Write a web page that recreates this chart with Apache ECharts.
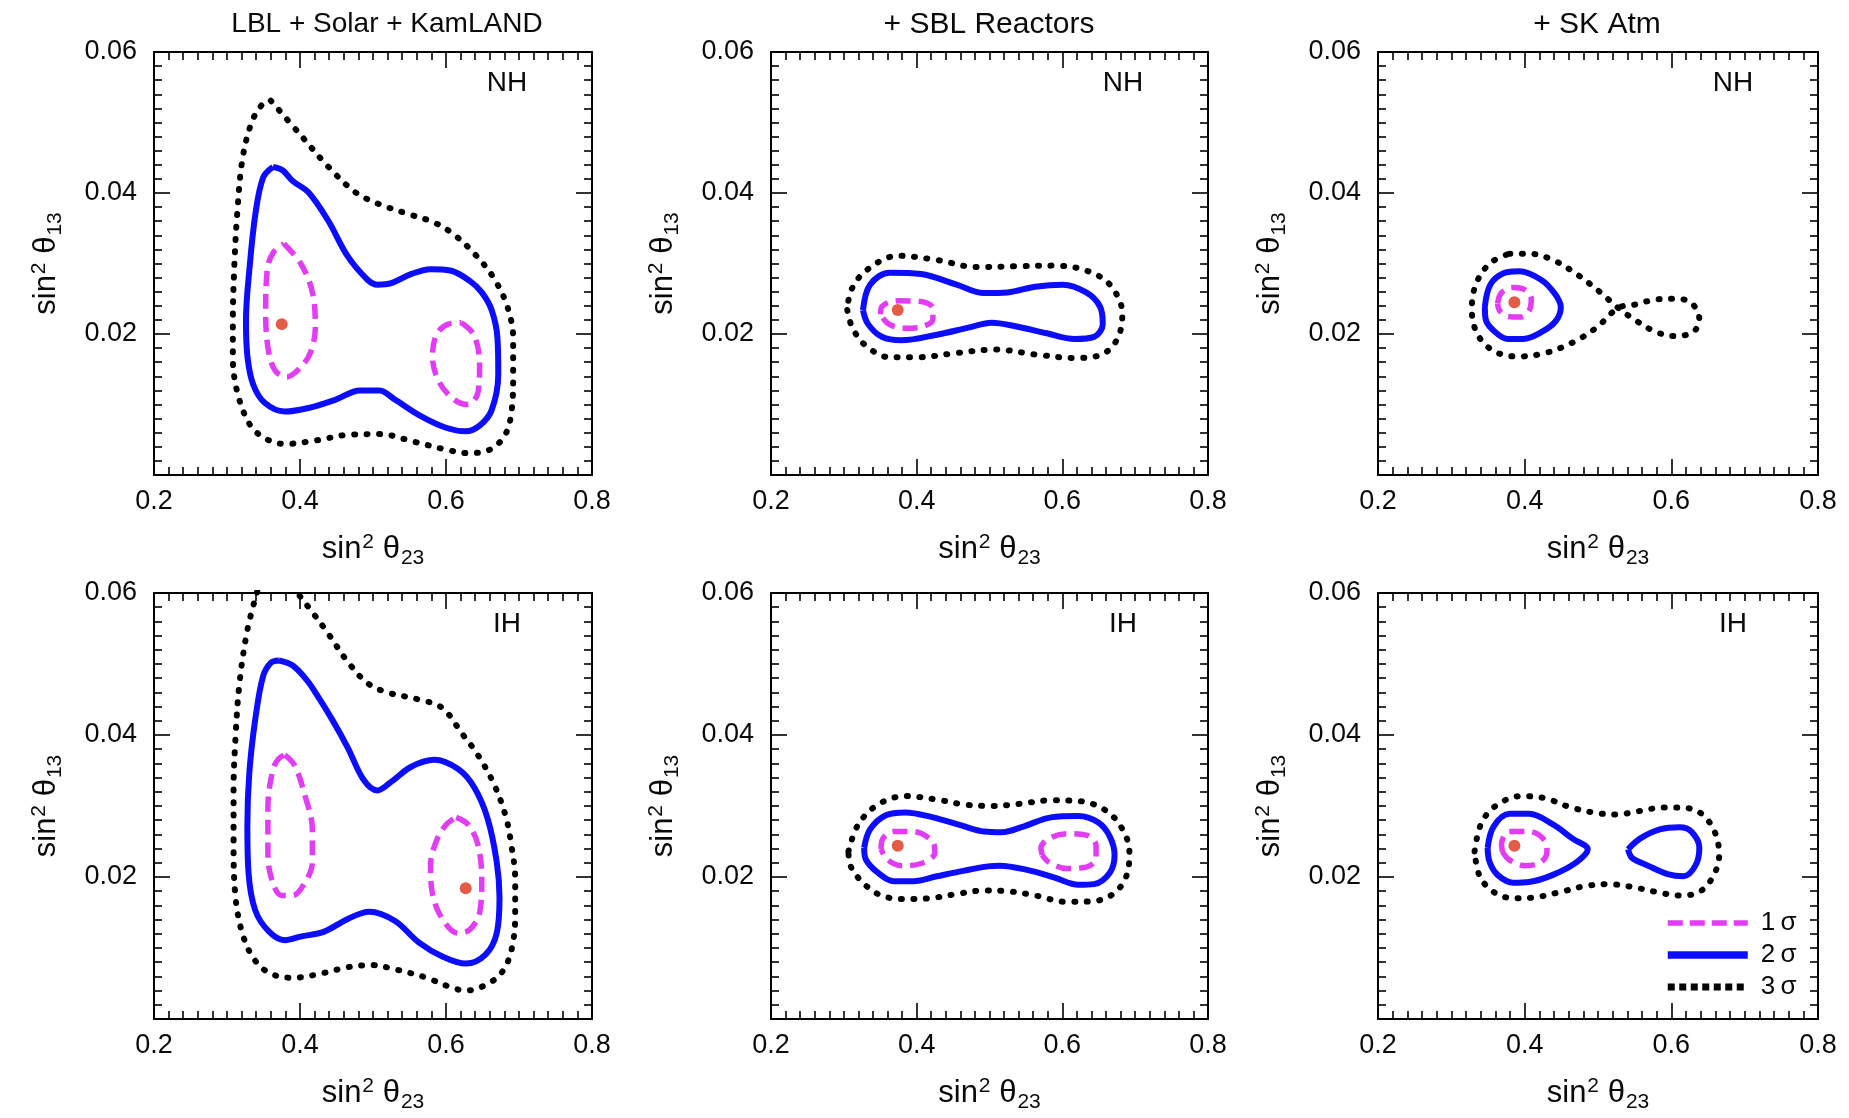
<!DOCTYPE html>
<html>
<head>
<meta charset="utf-8">
<title>sin²θ23 – sin²θ13 allowed regions</title>
<script src="https://cdn.jsdelivr.net/npm/echarts@6/dist/echarts.min.js"></script>
<style>
  html, body { margin: 0; padding: 0; background: #ffffff; }
  #chart { width: 1849px; height: 1118px; }
</style>
</head>
<body>
<div id="chart"></div>
<script>
// ---------------------------------------------------------------
// Axis ticks and texts
// ---------------------------------------------------------------
const xTicks = [0.2, 0.4, 0.6, 0.8];
const xTickLabels = ['0.2', '0.4', '0.6', '0.8'];
const yTicks = [0, 0.02, 0.04, 0.06];
const yTickLabels = ['', '0.02', '0.04', '0.06'];
const columnTitles = ['LBL + Solar + KamLAND', '+ SBL Reactors', '+ SK Atm'];
const rowLabels = ['NH', 'IH'];
const levelNames = ['1σ', '2σ', '3σ'];

// ---------------------------------------------------------------
// Contours: [sin²θ23, sin²θ13]
// ---------------------------------------------------------------
// NH, LBL + Solar + KamLAND
const nhLblSigma3 = [[0.360,0.0531],[0.401,0.0482],[0.439,0.0437],[0.476,0.0401],[0.509,0.0384],[0.546,0.0371],[0.584,0.0358],[0.611,0.0341],[0.638,0.0315],[0.665,0.0280],[0.684,0.0239],[0.692,0.0194],[0.692,0.0143],[0.690,0.0092],[0.681,0.0057],[0.660,0.0036],[0.630,0.0031],[0.600,0.0036],[0.557,0.0047],[0.509,0.0058],[0.466,0.0057],[0.422,0.0049],[0.379,0.0044],[0.352,0.0052],[0.331,0.0072],[0.314,0.0118],[0.308,0.0168],[0.308,0.0219],[0.310,0.0295],[0.314,0.0371],[0.321,0.0447],[0.333,0.0498],[0.347,0.0524],[0.360,0.0531]];
const nhLblSigma2 = [[0.363,0.0437],[0.3765,0.0432],[0.390,0.0417],[0.4115,0.0401],[0.4385,0.0361],[0.4655,0.0310],[0.4925,0.0277],[0.506,0.0270],[0.525,0.0272],[0.552,0.0285],[0.579,0.0292],[0.606,0.0290],[0.633,0.0275],[0.649,0.0259],[0.6625,0.0234],[0.6705,0.0194],[0.6716,0.0143],[0.6625,0.0092],[0.646,0.0070],[0.627,0.0062],[0.600,0.0067],[0.563,0.0085],[0.530,0.0107],[0.509,0.0120],[0.482,0.0120],[0.449,0.0107],[0.4115,0.0095],[0.379,0.0090],[0.352,0.0102],[0.336,0.0128],[0.328,0.0168],[0.326,0.0219],[0.331,0.0295],[0.339,0.0371],[0.3495,0.0422],[0.363,0.0437]];
const nhLblSigma1Low = [[0.378,0.0328],[0.401,0.0300],[0.417,0.0259],[0.421,0.0209],[0.414,0.0173],[0.401,0.0153],[0.382,0.0139],[0.366,0.0148],[0.3565,0.0178],[0.353,0.0229],[0.355,0.0290],[0.363,0.0315],[0.378,0.0328]];
const nhLblSigma1High = [[0.621,0.0216],[0.638,0.0199],[0.646,0.0158],[0.644,0.0118],[0.630,0.0100],[0.611,0.0107],[0.590,0.0133],[0.5815,0.0168],[0.587,0.0199],[0.603,0.0214],[0.621,0.0216]];
const nhLblBest = [0.375, 0.0214];

// NH, + SBL reactors
const nhSblSigma3 = [[0.3047,0.0234],[0.3117,0.0209],[0.3306,0.0183],[0.363,0.0167],[0.4007,0.0167],[0.4547,0.0173],[0.5086,0.0178],[0.5626,0.0171],[0.6166,0.0166],[0.6544,0.0171],[0.676,0.0194],[0.6824,0.0229],[0.6652,0.0270],[0.6328,0.0290],[0.5896,0.0297],[0.5356,0.0296],[0.4817,0.0295],[0.4277,0.0305],[0.3738,0.0311],[0.3306,0.0290],[0.310,0.0262],[0.3047,0.0234]];
const nhSblSigma2 = [[0.3263,0.0234],[0.336,0.0270],[0.363,0.0287],[0.4061,0.0285],[0.4547,0.0270],[0.4925,0.0258],[0.5248,0.0259],[0.5626,0.0267],[0.6004,0.0270],[0.6328,0.0259],[0.6517,0.0239],[0.6555,0.0214],[0.6436,0.0196],[0.6166,0.0193],[0.5788,0.0201],[0.5356,0.0211],[0.5032,0.0216],[0.4709,0.0209],[0.4277,0.0199],[0.3791,0.0191],[0.3522,0.0196],[0.3333,0.0214],[0.3263,0.0234]];
const nhSblSigma1 = [[0.3505,0.0228],[0.3522,0.0239],[0.3738,0.0247],[0.4061,0.0246],[0.4223,0.0236],[0.4223,0.0221],[0.4061,0.0210],[0.3818,0.0208],[0.3603,0.0215],[0.3505,0.0228]];
const nhSblBest = [0.374, 0.0234];

// NH, + SK atmospheric
const nhAtmSigma3 = [[0.3792,0.0314],[0.4061,0.0314],[0.4385,0.0305],[0.4709,0.0285],[0.5032,0.0259],[0.5275,0.0237],[0.5518,0.0219],[0.5788,0.0203],[0.6058,0.0197],[0.6301,0.0203],[0.6382,0.0221],[0.6274,0.0244],[0.6058,0.0250],[0.5788,0.0249],[0.5518,0.0242],[0.5275,0.0237],[0.4979,0.0209],[0.4655,0.0188],[0.4277,0.0173],[0.390,0.0168],[0.3576,0.0176],[0.336,0.0199],[0.3279,0.0234],[0.3333,0.0270],[0.3522,0.0300],[0.3792,0.0314]];
const nhAtmSigma2 = [[0.3457,0.0239],[0.3532,0.0270],[0.3711,0.0286],[0.3926,0.0289],[0.4223,0.0277],[0.4412,0.0257],[0.4493,0.0238],[0.4428,0.0219],[0.4250,0.0204],[0.3980,0.0193],[0.3765,0.0193],[0.3565,0.0206],[0.3468,0.0221],[0.3457,0.0239]];
const nhAtmSigma1 = [[0.363,0.0243],[0.368,0.0258],[0.383,0.0266],[0.400,0.0263],[0.409,0.0250],[0.406,0.0233],[0.394,0.0224],[0.377,0.0225],[0.366,0.0233],[0.363,0.0243]];
const nhAtmBest = [0.386, 0.0245];

// IH, LBL + Solar + KamLAND (3σ leaves the frame at the top)
const ihLblSigma3 = [[0.3414,0.0602],[0.3279,0.0548],[0.3171,0.0473],[0.3117,0.0397],[0.309,0.0322],[0.309,0.0246],[0.3117,0.0171],[0.3209,0.0121],[0.336,0.0086],[0.3576,0.0065],[0.390,0.0058],[0.4331,0.0065],[0.4655,0.0073],[0.4979,0.0076],[0.5302,0.0070],[0.5734,0.0058],[0.6058,0.0045],[0.6274,0.0040],[0.6544,0.0048],[0.676,0.0065],[0.6894,0.0096],[0.6948,0.0146],[0.6948,0.0196],[0.6894,0.0246],[0.6814,0.0287],[0.6652,0.0332],[0.6436,0.0372],[0.622,0.0402],[0.595,0.0438],[0.5626,0.0450],[0.5194,0.0460],[0.4925,0.0473],[0.4655,0.0503],[0.4385,0.0543],[0.4169,0.0573],[0.398,0.0598],[0.390,0.0608]];
const ihLblSigma2 = [[0.3711,0.0505],[0.390,0.0498],[0.4088,0.0478],[0.4223,0.0458],[0.4439,0.0422],[0.4655,0.0382],[0.4871,0.0337],[0.5059,0.0322],[0.5248,0.0334],[0.5518,0.0355],[0.5842,0.0365],[0.6166,0.0352],[0.6382,0.0327],[0.6571,0.0282],[0.6695,0.0221],[0.6733,0.0171],[0.6695,0.0121],[0.6544,0.0091],[0.6274,0.0078],[0.595,0.0088],[0.5626,0.0108],[0.5302,0.0138],[0.4952,0.0151],[0.4655,0.0141],[0.4331,0.0123],[0.4007,0.0116],[0.3792,0.0111],[0.3576,0.0123],[0.3387,0.0153],[0.3295,0.0206],[0.3279,0.0272],[0.3306,0.0347],[0.3387,0.0422],[0.3495,0.0483],[0.3603,0.0502],[0.3711,0.0505]];
const ihLblSigma1Low = [[0.3792,0.0372],[0.3927,0.0357],[0.4061,0.0317],[0.4169,0.0267],[0.4169,0.0221],[0.4061,0.0191],[0.390,0.0174],[0.3749,0.0174],[0.363,0.0191],[0.356,0.0231],[0.356,0.0297],[0.363,0.0352],[0.3711,0.0367],[0.3792,0.0372]];
const ihLblSigma1High = [[0.6139,0.0284],[0.6301,0.0274],[0.6436,0.0246],[0.649,0.0196],[0.6463,0.0151],[0.6328,0.0126],[0.6166,0.0121],[0.595,0.0141],[0.5815,0.0176],[0.5788,0.0216],[0.5869,0.0251],[0.6004,0.0274],[0.6139,0.0284]];
const ihLblBest = [0.627, 0.0184];

// IH, + SBL reactors
const ihSblSigma3 = [[0.3063,0.0236],[0.3198,0.0274],[0.3468,0.0302],[0.3845,0.0314],[0.4277,0.0309],[0.4655,0.0302],[0.5032,0.0300],[0.541,0.0303],[0.5842,0.0308],[0.622,0.0307],[0.6544,0.0297],[0.6786,0.0274],[0.6921,0.0236],[0.6894,0.0206],[0.6733,0.0179],[0.6436,0.0166],[0.6058,0.0165],[0.5626,0.0174],[0.5248,0.0180],[0.4925,0.0181],[0.4547,0.0176],[0.4169,0.0170],[0.3792,0.0169],[0.3468,0.0176],[0.3225,0.0196],[0.309,0.0216],[0.3063,0.0236]];
const ihSblSigma2 = [[0.3279,0.0241],[0.336,0.0267],[0.3576,0.0287],[0.3845,0.0291],[0.4223,0.0284],[0.4601,0.0273],[0.4925,0.0264],[0.5167,0.0263],[0.5464,0.0271],[0.5842,0.0284],[0.622,0.0286],[0.649,0.0277],[0.6652,0.0257],[0.6717,0.0231],[0.6652,0.0206],[0.6436,0.0190],[0.622,0.0189],[0.5896,0.0199],[0.5518,0.0210],[0.514,0.0216],[0.4979,0.0215],[0.4655,0.0209],[0.4277,0.0201],[0.3954,0.0194],[0.3684,0.0194],[0.3468,0.0206],[0.3306,0.0224],[0.3279,0.0241]];
const ihSblSigma1Low = [[0.3512,0.0239],[0.3522,0.0251],[0.3684,0.0264],[0.3954,0.0264],[0.4223,0.0249],[0.425,0.0234],[0.4061,0.0219],[0.3792,0.0216],[0.3603,0.0224],[0.3512,0.0239]];
const ihSblSigma1High = [[0.5723,0.0231],[0.5707,0.0241],[0.5815,0.0254],[0.6058,0.0261],[0.6328,0.0259],[0.6463,0.0244],[0.6463,0.0226],[0.6328,0.0214],[0.6058,0.0212],[0.5815,0.0221],[0.5723,0.0231]];
const ihSblBest = [0.374, 0.0244];

// IH, + SK atmospheric
const ihAtmSigma3 = [[0.3317,0.0236],[0.3414,0.0277],[0.363,0.0302],[0.3953,0.0314],[0.4277,0.0311],[0.4601,0.0299],[0.4925,0.0291],[0.5248,0.0288],[0.5572,0.0293],[0.5896,0.0298],[0.622,0.0297],[0.6436,0.0287],[0.6598,0.0262],[0.6652,0.0231],[0.6571,0.0201],[0.6382,0.0179],[0.6112,0.0174],[0.5788,0.0179],[0.5464,0.0186],[0.514,0.0190],[0.4817,0.0187],[0.4493,0.0179],[0.4115,0.0171],[0.3845,0.0170],[0.3576,0.0179],[0.3387,0.0201],[0.3317,0.0236]];
const ihAtmSigma2Low = [[0.3495,0.0241],[0.3576,0.0271],[0.3792,0.0289],[0.4061,0.0289],[0.4385,0.0274],[0.4655,0.0254],[0.486,0.0239],[0.4709,0.0221],[0.4385,0.0203],[0.4061,0.0193],[0.3845,0.0192],[0.363,0.0203],[0.3522,0.0221],[0.3495,0.0241]];
const ihAtmSigma2High = [[0.541,0.0239],[0.5572,0.0254],[0.5842,0.0267],[0.6112,0.0270],[0.6274,0.0264],[0.6382,0.0241],[0.6328,0.0216],[0.6166,0.0201],[0.595,0.0204],[0.568,0.0216],[0.5464,0.0227],[0.541,0.0239]];
const ihAtmSigma1 = [[0.3695,0.0236],[0.3684,0.0246],[0.3792,0.0264],[0.4061,0.0264],[0.4277,0.0251],[0.4304,0.0236],[0.4223,0.0221],[0.4007,0.0216],[0.3792,0.0224],[0.3695,0.0236]];
const ihAtmBest = [0.386, 0.0244];

// Which contours go into which panel (row = hierarchy, col = data set)
const panels = [
  { row: 0, col: 0, s1: [nhLblSigma1Low, nhLblSigma1High], s2: [nhLblSigma2], s3: [nhLblSigma3], best: nhLblBest },
  { row: 0, col: 1, s1: [nhSblSigma1], s2: [nhSblSigma2], s3: [nhSblSigma3], best: nhSblBest },
  { row: 0, col: 2, s1: [nhAtmSigma1], s2: [nhAtmSigma2], s3: [nhAtmSigma3], best: nhAtmBest },
  { row: 1, col: 0, s1: [ihLblSigma1Low, ihLblSigma1High], s2: [ihLblSigma2], s3: [ihLblSigma3], best: ihLblBest },
  { row: 1, col: 1, s1: [ihSblSigma1Low, ihSblSigma1High], s2: [ihSblSigma2], s3: [ihSblSigma3], best: ihSblBest },
  { row: 1, col: 2, s1: [ihAtmSigma1], s2: [ihAtmSigma2Low, ihAtmSigma2High], s3: [ihAtmSigma3], best: ihAtmBest }
];

// ---------------------------------------------------------------
// Layout and styles
// ---------------------------------------------------------------
const FONT = '"Liberation Sans", Arial, Helvetica, sans-serif';
const INK = '#0a0a0a';
const colLeft = [154, 771, 1378];
const colWidth = [438, 437, 440];
const rowTop = [52, 593];
const rowHeight = [423, 426];
const titleCenter = [387, 989, 1597];
const titleSize = [28, 30, 30];

const lineStyles = {
  '1σ': { color: '#e23cf6', width: 5.5, type: [15, 8], cap: 'butt' },
  '2σ': { color: '#0c0cff', width: 6, type: 'solid' },
  '3σ': { color: '#000000', width: 6, type: [1, 11.5], cap: 'round' }
};
const legendLineStyles = {
  '1σ': { color: '#e23cf6', width: 5.5, type: [15, 7], cap: 'butt', opacity: 1 },
  '2σ': { color: '#0c0cff', width: 7.5, type: 'solid', opacity: 1 },
  '3σ': { color: '#000000', width: 7, type: [7, 4.5], cap: 'butt', opacity: 1 }
};

function tickText(ticks, labels) {
  return function (v) {
    for (let i = 0; i < ticks.length; i++) {
      if (Math.abs(v - ticks[i]) < 1e-9) return labels[i];
    }
    return '';
  };
}

const nameRich = {
  m: { fontSize: 31, fontFamily: FONT, color: INK },
  sup: { fontSize: 21, fontFamily: FONT, color: INK, padding: [0, 0, 14, 1] },
  sub: { fontSize: 21, fontFamily: FONT, color: INK, padding: [18, 0, 0, 1] }
};

function frameAxis(base, gridIndex, position, withLabels) {
  return Object.assign({
    type: 'value',
    gridIndex: gridIndex,
    position: position,
    axisLine: { show: true, onZero: false, lineStyle: { color: '#000', width: 2 } },
    axisTick: { show: true, inside: true, length: 16, lineStyle: { color: '#000', width: 1.6 } },
    minorTick: { show: true, splitNumber: 10, length: 8, lineStyle: { color: '#000', width: 1.6 } },
    splitLine: { show: false },
    minorSplitLine: { show: false },
    axisLabel: { show: false },
    silent: true
  }, base, withLabels ? {} : { name: '' });
}

const grids = [], xAxes = [], yAxes = [], series = [], titles = [];

panels.forEach(function (p, g) {
  grids.push({
    left: colLeft[p.col], top: rowTop[p.row],
    width: colWidth[p.col], height: rowHeight[p.row],
    containLabel: false, outerBoundsMode: 'none'
  });

  const xBase = { min: xTicks[0], max: xTicks[xTicks.length - 1], interval: 0.2 };
  const yBase = { min: yTicks[0], max: yTicks[yTicks.length - 1], interval: 0.02 };

  xAxes.push(frameAxis(Object.assign({}, xBase, {
    axisLabel: {
      show: true, fontSize: 27, fontFamily: FONT, color: INK, margin: 13,
      showMinLabel: true, showMaxLabel: true, hideOverlap: false,
      formatter: tickText(xTicks, xTickLabels)
    },
    name: '{m|sin}{sup|2}{m| θ}{sub|23}',
    nameLocation: 'middle', nameGap: 55,
    nameTextStyle: { rich: nameRich }
  }), g, 'bottom', true));
  xAxes.push(frameAxis(xBase, g, 'top', false));

  yAxes.push(frameAxis(Object.assign({}, yBase, {
    axisLabel: {
      show: true, fontSize: 27, fontFamily: FONT, color: INK, margin: 17,
      showMinLabel: true, showMaxLabel: true, hideOverlap: false,
      formatter: tickText(yTicks, yTickLabels)
    },
    name: '{m|sin}{sup|2}{m| θ}{sub|13}',
    nameLocation: 'middle', nameGap: 88,
    nameTextStyle: { rich: nameRich }
  }), g, 'left', true));
  yAxes.push(frameAxis(yBase, g, 'right', false));

  const axisIdx = 2 * g;
  [['3σ', p.s3, 2], ['2σ', p.s2, 3], ['1σ', p.s1, 4]].forEach(function (lv) {
    lv[1].forEach(function (pts) {
      series.push({
        type: 'line', name: lv[0],
        xAxisIndex: axisIdx, yAxisIndex: axisIdx,
        data: pts, smooth: 0.35, symbol: 'none', showSymbol: false,
        lineStyle: lineStyles[lv[0]], itemStyle: { color: lineStyles[lv[0]].color },
        clip: true, silent: true, z: lv[2]
      });
    });
  });
  series.push({
    type: 'scatter', name: 'best fit',
    xAxisIndex: axisIdx, yAxisIndex: axisIdx,
    data: [p.best], symbol: 'circle', symbolSize: 12,
    itemStyle: { color: '#dc3319' }, silent: true, z: 6
  });

  // hierarchy tag inside each panel
  titles.push({
    text: rowLabels[p.row],
    left: colLeft[p.col] + colWidth[p.col] - 85, top: rowTop[p.row] + 17,
    textAlign: 'center', padding: 0,
    textStyle: { fontSize: 28, fontWeight: 'normal', fontFamily: FONT, color: INK }
  });
});

columnTitles.forEach(function (t, c) {
  titles.push({
    text: t, left: titleCenter[c], top: 10,
    textAlign: 'center', padding: 0,
    textStyle: { fontSize: titleSize[c], fontWeight: 'normal', fontFamily: FONT, color: INK }
  });
});

const chart = echarts.init(document.getElementById('chart'), null, { renderer: 'canvas' });
chart.setOption({
  backgroundColor: '#ffffff',
  animation: false,
  title: titles,
  grid: grids,
  xAxis: xAxes,
  yAxis: yAxes,
  legend: {
    data: levelNames.map(function (n) {
      return { name: n, lineStyle: legendLineStyles[n], itemStyle: { opacity: 0 } };
    }),
    orient: 'vertical',
    left: 1664, top: 910, padding: 0,
    itemWidth: 80, itemHeight: 14, itemGap: 6,
    selectedMode: false,
    itemStyle: { opacity: 0 },
    formatter: function (n) { return n.replace('σ', '\u2009σ'); },
    textStyle: { fontSize: 26, fontFamily: FONT, color: INK, padding: [0, 0, 0, 8] }
  },
  series: series
});
</script>
</body>
</html>
